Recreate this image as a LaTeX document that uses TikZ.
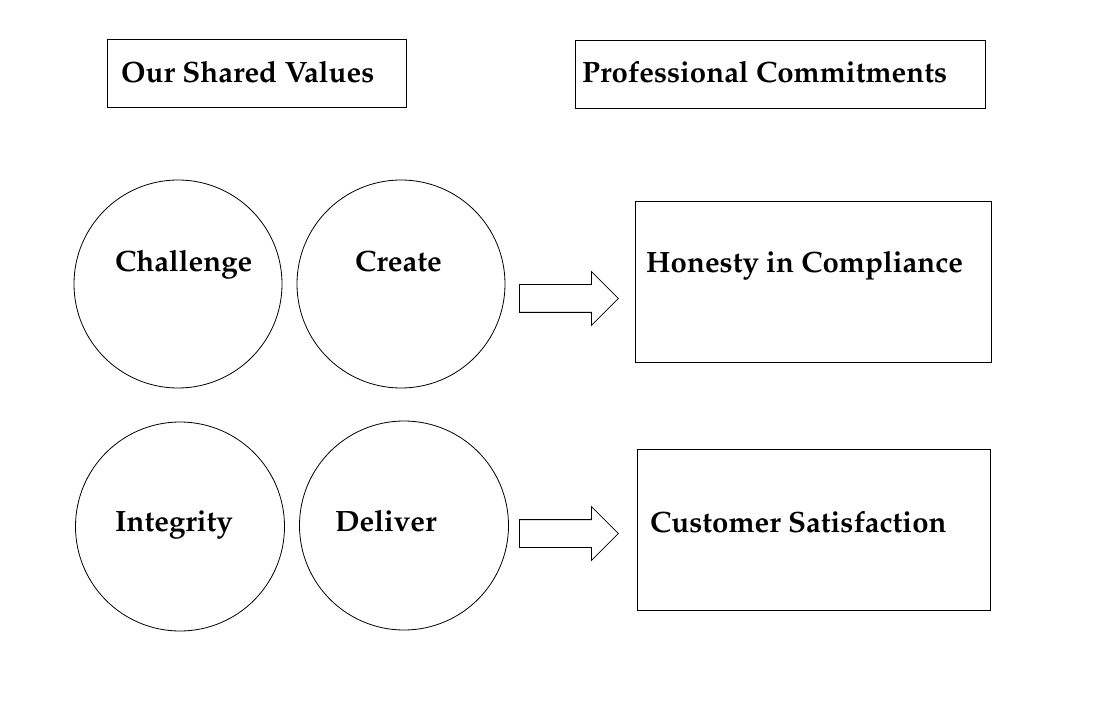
\documentclass[tikz,border=0pt]{standalone}
\usepackage[T1]{fontenc}
\usepackage{mathpazo}
\usetikzlibrary{shapes.arrows}

\begin{document}
\begin{tikzpicture}[x=1pt,y=-1pt,
    box/.style={rectangle,draw,line width=1pt,inner sep=0pt},
    value/.style={circle,draw,line width=0.8pt,inner sep=0pt},
    txt/.style={inner sep=0pt,anchor=base west,font=\fontsize{29.4}{35}\selectfont\bfseries},
    blockarrow/.style={single arrow,draw,line width=0.8pt,minimum height=99pt,inner xsep=0pt,inner ysep=13.5pt,single arrow head extend=13pt,anchor=tail}]
    \useasboundingbox (0,0) rectangle (1097,708);

    % headings
    \node(valuesbox)[box,minimum width=299pt,minimum height=68pt] at (256.5,74) {};
    \node(commitbox)[box,minimum width=410pt,minimum height=68pt] at (780,75) {};
    \node(valuestext)[txt] at (121,82.5) {Our Shared Values};
    \node(committext)[txt] at (582,83) {Professional Commitments};

    % shared values
    \node(challenge)[value,minimum size=208pt] at (178,284) {};
    \node(create)[value,minimum size=208pt] at (401,284) {};
    \node(integrity)[value,minimum size=209pt] at (180,526.5) {};
    \node(deliver)[value,minimum size=209pt] at (404,525.5) {};
    \node(challengetext)[txt] at (115,272) {Challenge};
    \node(createtext)[txt] at (355,272) {Create};
    \node(integritytext)[txt] at (115,531.5) {Integrity};
    \node(delivertext)[txt] at (335,531.5) {Deliver};

    % commitments
    \node(honesty)[box,minimum width=356pt,minimum height=160pt] at (813,282) {};
    \node(customer)[box,minimum width=353pt,minimum height=161pt] at (813.5,529.5) {};
    \node(honestytext)[txt] at (646,272.5) {Honesty in Compliance};
    \node(customertext)[txt] at (650,532) {Customer Satisfaction};

    \node(toparrow)[blockarrow] at (519,298.5) {};
    \node(bottomarrow)[blockarrow] at (519,533.5) {};

  \end{tikzpicture}
\end{document}
